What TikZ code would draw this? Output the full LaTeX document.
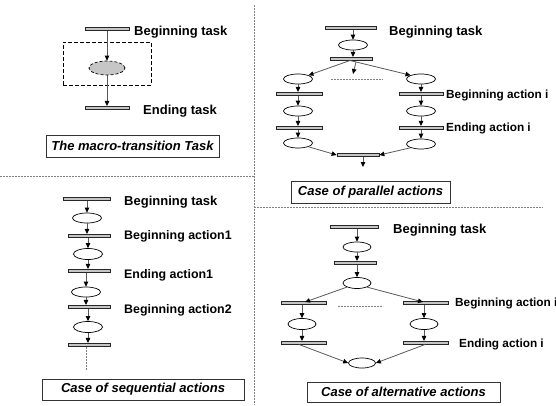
\documentclass[tikz,border=0pt]{standalone}
\usepackage{fontspec}
\setmainfont{Liberation Sans}
\usetikzlibrary{arrows.meta,shapes.geometric}
\begin{document}
\begin{tikzpicture}[x=1pt,y=-1pt,
 bar/.style={draw=black!85,fill=gray!45,rectangle,minimum height=3.4pt,inner sep=0pt,line width=0.7pt},
 pl/.style={draw=black,ellipse,minimum width=29pt,minimum height=10pt,inner sep=0pt,line width=0.7pt},
 arr/.style={draw=black!65,line width=0.8pt,-{Triangle[length=5pt,width=4.5pt,color=black]}},
 lbl/.style={anchor=west,font=\bfseries\fontsize{13}{15}\selectfont,inner sep=0pt},
 slbl/.style={anchor=west,font=\bfseries\fontsize{12.4}{14}\selectfont,inner sep=0pt},
 albl/.style={anchor=west,font=\bfseries\fontsize{11.8}{14}\selectfont,inner sep=0pt},
 capbox/.style={draw=black!80,line width=0.8pt,inner sep=0pt,font=\bfseries\itshape\fontsize{13}{15}\selectfont},
 divl/.style={draw=gray,dash pattern=on 2pt off 1pt,line width=0.6pt},
 dots/.style={draw=gray,dash pattern=on 2pt off 1pt,line width=0.6pt}]
\useasboundingbox (0,0) rectangle (556,405);
% dividers
\coordinate (dA) at (0,176); \coordinate (dB) at (254,176);
\coordinate (dC) at (254,5); \coordinate (dD) at (254,405);
\coordinate (dE) at (543,207);
\draw[divl] (dA) -- (dB);
\draw[divl] (dC) -- (dD);
\draw[divl] (254,207) -- (dE);

% ---------- macro-transition ----------
\node[bar,minimum width=44pt] (m1) at (107,29) {};
\node[draw=black,dash pattern=on 4pt off 2pt,line width=0.8pt,minimum width=88pt,minimum height=43pt,inner sep=0pt] (mbox) at (107,63.5) {};
\node[pl,fill=gray!45,dash pattern=on 3pt off 2pt,minimum width=36pt,minimum height=14pt] (me) at (107,68) {};
\node[bar,minimum width=44pt] (m2) at (107,108) {};
\draw[arr] (m1.south) -- (me.north);
\draw[arr] (me.south) -- (m2.north);
\node[lbl] (mt1) at (134,32) {Beginning task};
\node[lbl] (mt2) at (143,111) {Ending task};
\node[capbox,minimum width=173pt,minimum height=22pt] (c1) at (132.5,146) {The macro-transition Task};

% ---------- parallel ----------
\node[bar,minimum width=51pt] (pb1) at (350.5,28) {};
\node[pl] (pe1) at (353,45) {};
\node[bar,minimum width=42pt] (pb2) at (351,59) {};
\node[lbl] (pt1) at (389,32) {Beginning task};
\draw[arr] (pb1.south -| pe1) -- (pe1.north);
\draw[arr] (pe1.south) -- (pb2.north -| pe1);
\node[pl] (pl1) at (298,79) {};
\node[bar,minimum width=46pt] (plb1) at (299,94) {};
\node[pl] (pl2) at (298,111) {};
\node[bar,minimum width=46pt] (plb2) at (299,128) {};
\node[pl] (pl3) at (298,143) {};
\node[pl] (pr1) at (421,79) {};
\node[bar,minimum width=44pt] (prb1) at (421,94) {};
\node[pl] (pr2) at (421,111) {};
\node[bar,minimum width=44pt] (prb2) at (421,128) {};
\node[pl] (pr3) at (421,144) {};
\coordinate (pmid) at (350,60.5);
\draw[arr] (pmid) -- (pl1.north east);
\draw[arr] (pmid) -- (pr1.north west);
\coordinate (psm1) at (356,62); \coordinate (psm2) at (353,74);
\draw[arr] (psm1) -- (psm2);
\coordinate (pd1) at (331,79); \coordinate (pd2) at (383,79);
\draw[dots] (pd1) -- (pd2);
\draw[arr] (pl1.south) -- (plb1.north -| pl1);
\draw[arr] (plb1.south -| pl2) -- (pl2.north);
\draw[arr] (pl2.south) -- (plb2.north -| pl2);
\draw[arr] (plb2.south -| pl3) -- (pl3.north);
\draw[arr] (pr1.south) -- (prb1.north -| pr1);
\draw[arr] (prb1.south -| pr2) -- (pr2.north);
\draw[arr] (pr2.south) -- (prb2.north -| pr2);
\draw[arr] (prb2.south -| pr3) -- (pr3.north);
\node[albl] (pt2) at (446,95) {Beginning action i};
\node[albl] (pt3) at (446,128) {Ending action i};
\node[bar,minimum width=42pt] (pb3) at (358,155) {};
\draw[arr] (pl3.south east) -- (pb3.west);
\draw[arr] (pr3.south west) -- (pb3.east);
\coordinate (pend) at (363,167);
\draw[arr] (pb3.south -| pend) -- (pend);
\node[capbox,minimum width=159pt,minimum height=22pt] (c2) at (370.5,192) {Case of parallel actions};

% ---------- sequential ----------
\node[bar,minimum width=47pt] (sb1) at (86.5,199) {};
\node[pl] (se1) at (87,218) {};
\node[bar,minimum width=42pt] (sb2) at (89,236) {};
\node[pl,minimum height=11pt] (se2) at (88,254) {};
\node[bar,minimum width=42pt] (sb3) at (89,271) {};
\node[pl] (se3) at (86,292) {};
\node[bar,minimum width=42pt] (sb4) at (89,307) {};
\node[pl,minimum height=11pt] (se4) at (88,327) {};
\node[bar,minimum width=42pt] (sb5) at (89,345) {};
\draw[arr] (sb1.south -| se1) -- (se1.north);
\draw[arr] (se1.south) -- (sb2.north -| se1);
\draw[arr] (sb2.south -| se2) -- (se2.north);
\draw[arr] (se2.south) -- (sb3.north -| se2);
\draw[arr] (sb3.south -| se3) -- (se3.north);
\draw[arr] (se3.south) -- (sb4.north -| se3);
\draw[arr] (sb4.south -| se4) -- (se4.north);
\draw[arr] (se4.south) -- (sb5.north -| se4);
\coordinate (send) at (86,370);
\draw[dots] (sb5.south -| send) -- (send);
\node[lbl] (st1) at (124,202) {Beginning task};
\node[slbl] (st2) at (124,236) {Beginning action1};
\node[slbl] (st3) at (124,275) {Ending action1};
\node[slbl] (st4) at (124,310) {Beginning action2};
\node[capbox,minimum width=202pt,minimum height=21pt] (c3) at (143,389.5) {Case of sequential actions};

% ---------- alternative ----------
\node[bar,minimum width=48pt] (ab1) at (354,227) {};
\node[pl,minimum width=28pt] (ae1) at (357,247) {};
\node[bar,minimum width=42pt] (ab2) at (355,263) {};
\node[pl,minimum width=28pt,minimum height=11pt] (ae2) at (357,283) {};
\node[lbl] (at1) at (393,230) {Beginning task};
\draw[arr] (ab1.south -| ae1) -- (ae1.north);
\draw[arr] (ae1.south) -- (ab2.north -| ae1);
\draw[arr] (ab2.south -| ae2) -- (ae2.north);
\node[bar,minimum width=45pt] (alb1) at (303.5,303) {};
\node[bar,minimum width=45pt] (arb1) at (425.5,303) {};
\coordinate (aL) at (305,302); \coordinate (aR) at (423,302);
\draw[arr] (ae2.south west) -- (aL);
\draw[arr] (ae2.south east) -- (aR);
\coordinate (ad1) at (338,306); \coordinate (ad2) at (383,306);
\draw[dots] (ad1) -- (ad2);
\node[albl] (at2) at (455,303) {Beginning action i};
\node[pl,minimum width=28pt,minimum height=11pt] (ale) at (302,324) {};
\node[pl,minimum width=28pt,minimum height=11pt] (are) at (424,324) {};
\node[bar,minimum width=45pt] (alb2) at (303.5,343) {};
\node[bar,minimum width=45pt] (arb2) at (425.5,343) {};
\draw[arr] (alb1.south -| ale) -- (ale.north);
\draw[arr] (ale.south) -- (alb2.north -| ale);
\draw[arr] (arb1.south -| are) -- (are.north);
\draw[arr] (are.south) -- (arb2.north -| are);
\node[albl] (at3) at (459,344) {Ending action i};
\node[pl,minimum width=27pt] (ae3) at (362,363) {};
\coordinate (aLs) at (299,344.5); \coordinate (aRs) at (425,344.5);
\draw[arr] (aLs) -- (ae3.west);
\draw[arr] (aRs) -- (ae3.east);
\node[capbox,minimum width=193pt,minimum height=20pt] (c4) at (403.5,392) {Case of alternative actions};
\end{tikzpicture}
\end{document}
